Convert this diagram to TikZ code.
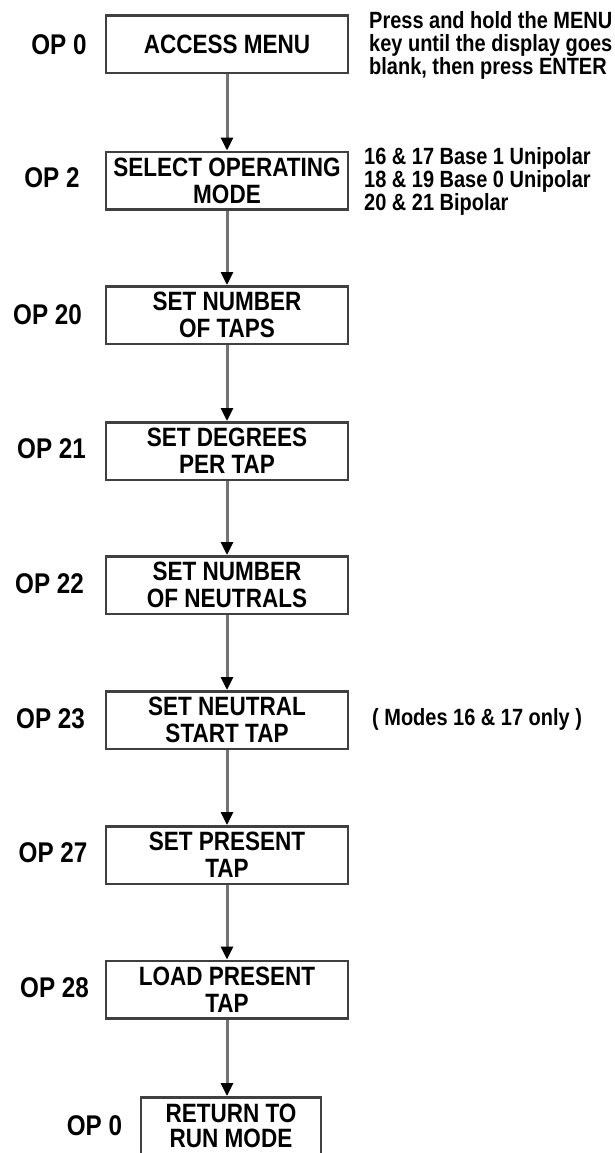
\documentclass[tikz,border=0pt]{standalone}
\usepackage{fontspec}
\setmainfont{Liberation Sans}[FakeStretch=0.85]
\usepackage{xcolor}
\usetikzlibrary{arrows.meta}

\tikzset{
    stepbox/.style={draw=black!75, line width=2.5pt, minimum width=242pt, minimum height=57.5pt,
        inner sep=0pt, align=center, font=\fontsize{26.5}{27}\selectfont\bfseries},
    oplabel/.style={inner sep=0pt, font=\fontsize{28.5}{30}\selectfont\bfseries},
    note/.style={anchor=west, align=left, inner sep=0pt, font=\fontsize{23.5}{23}\selectfont\bfseries},
    flow/.style={draw=black!55, line width=3pt, -{Triangle[width=12pt, length=13pt, color=black]}}
}

\begin{document}
\begin{tikzpicture}[x=1pt, y=-1pt]
    \useasboundingbox (0, 0) rectangle (615, 1153);

    \node[stepbox](b1) at (227, 44.5){ACCESS MENU};
    \node[stepbox](b2) at (227, 180.5){SELECT OPERATING\\MODE};
    \node[stepbox](b3) at (227, 315){SET NUMBER\\OF TAPS};
    \node[stepbox](b4) at (227, 451){SET DEGREES\\PER TAP};
    \node[stepbox](b5) at (227, 585){SET NUMBER\\OF NEUTRALS};
    \node[stepbox](b6) at (227, 720){SET NEUTRAL\\START TAP};
    \node[stepbox](b7) at (227, 855){SET PRESENT\\TAP};
    \node[stepbox](b8) at (227, 989.5){LOAD PRESENT\\TAP};
    \node[stepbox, minimum width=180pt, font=\fontsize{26.5}{25}\selectfont\bfseries](b9) at (231, 1126){RETURN TO\\RUN MODE};

    \node[oplabel](op0) at (59, 45){OP 0};
    \node[oplabel](op2) at (52, 178){OP 2};
    \node[oplabel](op20) at (47.5, 315){OP 20};
    \node[oplabel](op21) at (51.5, 449){OP 21};
    \node[oplabel](op22) at (49.5, 584){OP 22};
    \node[oplabel](op23) at (50.5, 719){OP 23};
    \node[oplabel](op27) at (53, 853){OP 27};
    \node[oplabel](op28) at (54.5, 988){OP 28};
    \node[oplabel](opend) at (94.5, 1126){OP 0};

    \node[note](menu) at (369, 45){Press and hold the MENU\\key until the display goes\\blank, then press ENTER};
    \node[note](modes) at (364, 181){16 \& 17 Base 1 Unipolar\\18 \& 19 Base 0 Unipolar\\20 \& 21 Bipolar};
    \node[note](only) at (372, 719){( Modes 16 \& 17 only )};

    \draw[flow](b1.south) -- (b2.north);
    \draw[flow](b2.south) -- (b3.north);
    \draw[flow](b3.south) -- (b4.north);
    \draw[flow](b4.south) -- (b5.north);
    \draw[flow](b5.south) -- (b6.north);
    \draw[flow](b6.south) -- (b7.north);
    \draw[flow](b7.south) -- (b8.north);
    \draw[flow](b8.south) -- (b8.south |- b9.north);
\end{tikzpicture}
\end{document}
